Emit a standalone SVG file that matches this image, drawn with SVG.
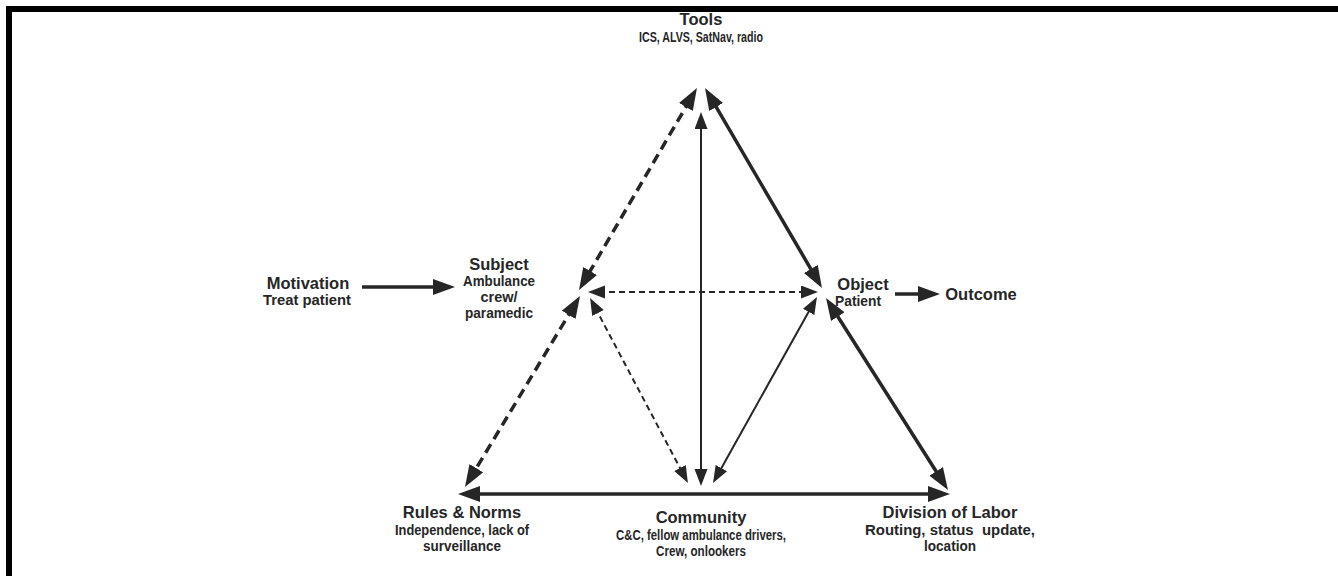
<svg xmlns="http://www.w3.org/2000/svg" width="1338" height="576" viewBox="0 0 1338 576">
<style>
.t{font-family:"Liberation Sans",Arial,sans-serif;font-weight:bold;fill:#262626;text-anchor:middle}
.h{font-size:16.5px}
.s{font-size:14.5px}
.thick{stroke:#262626;stroke-width:3.5;fill:none}
.thin{stroke:#262626;stroke-width:2;fill:none}
.d1{stroke-dasharray:10 6}
.d2{stroke-dasharray:6 4}
</style>
<defs>
<marker id="big" markerUnits="userSpaceOnUse" markerWidth="24" markerHeight="18" refX="9" refY="8" orient="auto-start-reverse"><path d="M0,0 L22,8 L0,16 z" fill="#262626"/></marker>
<marker id="sm" markerUnits="userSpaceOnUse" markerWidth="18" markerHeight="14" refX="6" refY="6.5" orient="auto-start-reverse"><path d="M0,0 L17,6.5 L0,13 z" fill="#262626"/></marker>
</defs>
<rect width="1338" height="576" fill="#fff"/>
<path d="M9,576 V9 H1338" stroke="#000" stroke-width="6" fill="none"/>
<g id="connectors">
<line class="thick d1" x1="690.4" y1="99.2" x2="585.6" y2="278.8" marker-start="url(#big)" marker-end="url(#big)"/>
<line class="thick d1" x1="573.3" y1="307.1" x2="471.7" y2="475.9" marker-start="url(#big)" marker-end="url(#big)"/>
<line class="thick" x1="711.6" y1="99.2" x2="815.4" y2="276.8" marker-start="url(#big)" marker-end="url(#big)"/>
<line class="thick" x1="833.0" y1="309.0" x2="941.0" y2="479.0" marker-start="url(#big)" marker-end="url(#big)"/>
<line class="thick" x1="471" y1="494" x2="937" y2="494" marker-start="url(#big)" marker-end="url(#big)"/>
<line class="thin" x1="701" y1="123" x2="701" y2="475" marker-start="url(#sm)" marker-end="url(#sm)"/>
<line class="thin d2" x1="599" y1="292" x2="807" y2="292" marker-start="url(#sm)" marker-end="url(#sm)"/>
<line class="thin d2" x1="595.2" y1="307.7" x2="682.8" y2="473.3" marker-start="url(#sm)" marker-end="url(#sm)"/>
<line class="thin" x1="811.6" y1="306.6" x2="718.4" y2="473.4" marker-start="url(#sm)" marker-end="url(#sm)"/>
<line class="thick" x1="362" y1="287" x2="442" y2="287" marker-end="url(#big)"/>
<line class="thick" x1="895" y1="294" x2="927" y2="294" marker-end="url(#big)"/>
</g>
<g id="tools"><text class="t h" x="701" y="25">Tools</text><text class="t s" x="701" y="42" textLength="124" lengthAdjust="spacingAndGlyphs">ICS, ALVS, SatNav, radio</text></g>
<g id="motivation"><text class="t h" x="308" y="289">Motivation</text><text class="t s" x="307" y="305" textLength="88" lengthAdjust="spacingAndGlyphs">Treat patient</text></g>
<g id="subject"><text class="t h" x="499" y="270">Subject</text><text class="t s" x="499" y="286" textLength="72" lengthAdjust="spacingAndGlyphs">Ambulance</text><text class="t s" x="499" y="302">crew/</text><text class="t s" x="499" y="318" textLength="68" lengthAdjust="spacingAndGlyphs">paramedic</text></g>
<g id="object"><text class="t h" x="863" y="290">Object</text><text class="t s" x="858" y="306" textLength="46" lengthAdjust="spacingAndGlyphs">Patient</text></g>
<g id="outcome"><text class="t h" x="981" y="300">Outcome</text></g>
<g id="rules"><text class="t h" x="462" y="518">Rules &amp; Norms</text><text class="t s" x="462" y="535" textLength="134" lengthAdjust="spacingAndGlyphs">Independence, lack of</text><text class="t s" x="462" y="551" textLength="78" lengthAdjust="spacingAndGlyphs">surveillance</text></g>
<g id="community"><text class="t h" x="701" y="523">Community</text><text class="t s" x="701" y="540" textLength="170" lengthAdjust="spacingAndGlyphs">C&amp;C, fellow ambulance drivers,</text><text class="t s" x="701" y="556" textLength="90" lengthAdjust="spacingAndGlyphs">Crew, onlookers</text></g>
<g id="division"><text class="t h" x="950" y="518">Division of Labor</text><text class="t s" x="950" y="535" xml:space="preserve" textLength="170" lengthAdjust="spacingAndGlyphs">Routing, status  update,</text><text class="t s" x="950" y="551" textLength="52" lengthAdjust="spacingAndGlyphs">location</text></g>
</svg>
